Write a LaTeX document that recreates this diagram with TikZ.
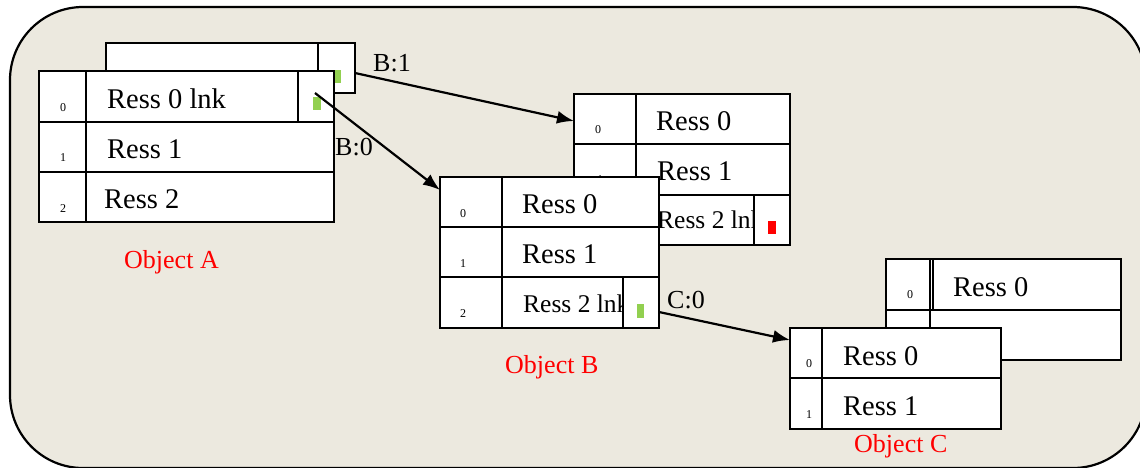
\documentclass[tikz,border=0pt]{standalone}
\usepackage{fontspec}
\setmainfont{Liberation Serif}
\usetikzlibrary{arrows.meta}
\definecolor{bgbeige}{RGB}{236,233,223}
\definecolor{lnkgreen}{RGB}{146,208,80}
\begin{document}
\begin{tikzpicture}[x=1pt,y=-1pt,
  cellbox/.style={draw=black,fill=white,line width=2.2pt,inner sep=0pt,outer sep=0pt,anchor=north west,rectangle},
  resstext/.style={anchor=base west,inner sep=0pt,font=\fontsize{28.5}{30}\selectfont},
  lnktext/.style={anchor=base west,inner sep=0pt,font=\fontsize{25.5}{27}\selectfont},
  idxtext/.style={anchor=base,inner sep=0pt,font=\fontsize{12}{13}\selectfont},
  lbltext/.style={anchor=base west,inner sep=0pt,font=\fontsize{26}{28}\selectfont},
  objtext/.style={anchor=base west,inner sep=0pt,text=red,font=\fontsize{26}{28}\selectfont},
  link/.style={line width=2.2pt,-{Latex[length=17pt,width=13pt]}},
  flagbox/.style={draw=none,inner sep=0pt,outer sep=0pt,anchor=north west,rectangle}
]
\useasboundingbox (0,0) rectangle (1140,467);
% background panel
\draw[line width=2.2pt,fill=bgbeige,rounded corners=73pt] (10,7) rectangle (1146,468);

% ---------------- Object A (back copy)
\node[cellbox,minimum width=212pt,minimum height=50pt] (Abk) at (106,43) {};
\node[cellbox,minimum width=37pt,minimum height=50pt] (Abklnk) at (318,43) {};
\node[flagbox,fill=lnkgreen,minimum width=8pt,minimum height=13pt] (Abkflag) at (333,70) {};

% ---------------- Object A (front)
\node[cellbox,minimum width=47pt,minimum height=51pt] (Ai0) at (39,71) {};
\node[cellbox,minimum width=248pt,minimum height=51pt] (Ar0) at (86,71) {};
\node[cellbox,minimum width=47pt,minimum height=50pt] (Ai1) at (39,122) {};
\node[cellbox,minimum width=248pt,minimum height=50pt] (Ar1) at (86,122) {};
\node[cellbox,minimum width=47pt,minimum height=50pt] (Ai2) at (39,172) {};
\node[cellbox,minimum width=248pt,minimum height=50pt] (Ar2) at (86,172) {};
\node[resstext] (At0) at (107,108) {Ress 0 lnk};
\node[cellbox,minimum width=36pt,minimum height=51pt] (Alnk) at (298,71) {};
\node[flagbox,fill=lnkgreen,minimum width=8pt,minimum height=13pt] (Aflag) at (313,97) {};
\node[resstext] (At1) at (107,158) {Ress 1};
\node[resstext] (At2) at (104,208) {Ress 2};
\node[idxtext] (An0) at (63,111) {0};
\node[idxtext] (An1) at (63,161) {1};
\node[idxtext] (An2) at (63,212) {2};
\node[objtext] (Aname) at (124,268) {Object A};

% ---------------- Object B (back copy)
\node[cellbox,minimum width=62pt,minimum height=50pt] (Bbi0) at (574,94) {};
\node[cellbox,minimum width=154pt,minimum height=50pt] (Bbr0) at (636,94) {};
\node[cellbox,minimum width=62pt,minimum height=51pt] (Bbi1) at (574,144) {};
\node[cellbox,minimum width=154pt,minimum height=51pt] (Bbr1) at (636,144) {};
\node[cellbox,minimum width=62pt,minimum height=50pt] (Bbi2) at (574,195) {};
\node[cellbox,minimum width=154pt,minimum height=50pt] (Bbr2) at (636,195) {};
\node[idxtext] (Bbn0) at (598,133) {0};
\node[idxtext] (Bbn1) at (600,183) {1};
\node[resstext] (Bbt0) at (656,130) {Ress 0};
\node[lnktext] (Bbt2) at (657,228) {Ress 2 lnk};
\node[cellbox,minimum width=36pt,minimum height=50pt] (Bblnk) at (754,195) {};
\node[flagbox,fill=red,minimum width=8pt,minimum height=13pt] (Bbflag) at (768,221) {};

% ---------------- Object B (front)
\node[cellbox,minimum width=62pt,minimum height=50pt] (Bi0) at (440,177) {};
\node[cellbox,minimum width=157pt,minimum height=50pt] (Br0) at (502,177) {};
\node[cellbox,minimum width=62pt,minimum height=50pt] (Bi1) at (440,227) {};
\node[cellbox,minimum width=157pt,minimum height=50pt] (Br1) at (502,227) {};
\node[cellbox,minimum width=62pt,minimum height=51pt] (Bi2) at (440,277) {};
\node[cellbox,minimum width=157pt,minimum height=51pt] (Br2) at (502,277) {};
\node[resstext] (Bbt1) at (657,180) {Ress 1};
\node[resstext] (Bt0) at (522,213) {Ress 0};
\node[resstext] (Bt1) at (522,263) {Ress 1};
\node[lnktext] (Bt2) at (523,312) {Ress 2 lnk};
\node[cellbox,minimum width=36pt,minimum height=51pt] (Blnk) at (623,277) {};
\node[flagbox,fill=lnkgreen,minimum width=7pt,minimum height=14pt] (Bflag) at (637,304) {};
\node[idxtext] (Bn0) at (463,217) {0};
\node[idxtext] (Bn1) at (463,267) {1};
\node[idxtext] (Bn2) at (463,317) {2};
\node[objtext] (Bname) at (505,373) {Object B};

% ---------------- Object C (back copy)
\node[cellbox,minimum width=44pt,minimum height=51pt] (Cbi0) at (886,259) {};
\node[cellbox,minimum width=191pt,minimum height=51pt] (Cbr0) at (930,259) {};
\node[cellbox,minimum width=44pt,minimum height=50pt] (Cbi1) at (886,310) {};
\node[cellbox,minimum width=191pt,minimum height=50pt] (Cbr1) at (930,310) {};
\draw[line width=1.5pt] (Cbr0.north west) ++(3,0) coordinate (Cbdbl) -- (Cbr0.south west -| Cbdbl);
\node[idxtext] (Cbn0) at (910,298) {0};
\node[resstext] (Cbt0) at (953,296) {Ress 0};

% ---------------- Object C (front)
\node[cellbox,minimum width=32pt,minimum height=50pt] (Ci0) at (790,328) {};
\node[cellbox,minimum width=179pt,minimum height=50pt] (Cr0) at (822,328) {};
\node[cellbox,minimum width=32pt,minimum height=51pt] (Ci1) at (790,378) {};
\node[cellbox,minimum width=179pt,minimum height=51pt] (Cr1) at (822,378) {};
\node[resstext] (Ct0) at (843,365) {Ress 0};
\node[resstext] (Ct1) at (843,415) {Ress 1};
\node[idxtext] (Cn0) at (809,367) {0};
\node[idxtext] (Cn1) at (809,418) {1};
\node[objtext] (Cname) at (854,452) {Object C};

% ---------------- links
\coordinate (L1s) at (355,73);
\coordinate (L1e) at (574,121);
\coordinate (L2s) at (315,93);
\coordinate (L2e) at (440,190);
\coordinate (L3s) at (659,312);
\coordinate (L3e) at (790,340);
\draw[link] (L1s) -- (L1e);
\draw[link] (L2s) -- (L2e);
\draw[link] (L3s) -- (L3e);
\node[lbltext] (lblB1) at (373,71) {B:1};
\node[lbltext] (lblB0) at (335,155) {B:0};
\node[lbltext] (lblC0) at (667,308) {C:0};
\end{tikzpicture}
\end{document}
